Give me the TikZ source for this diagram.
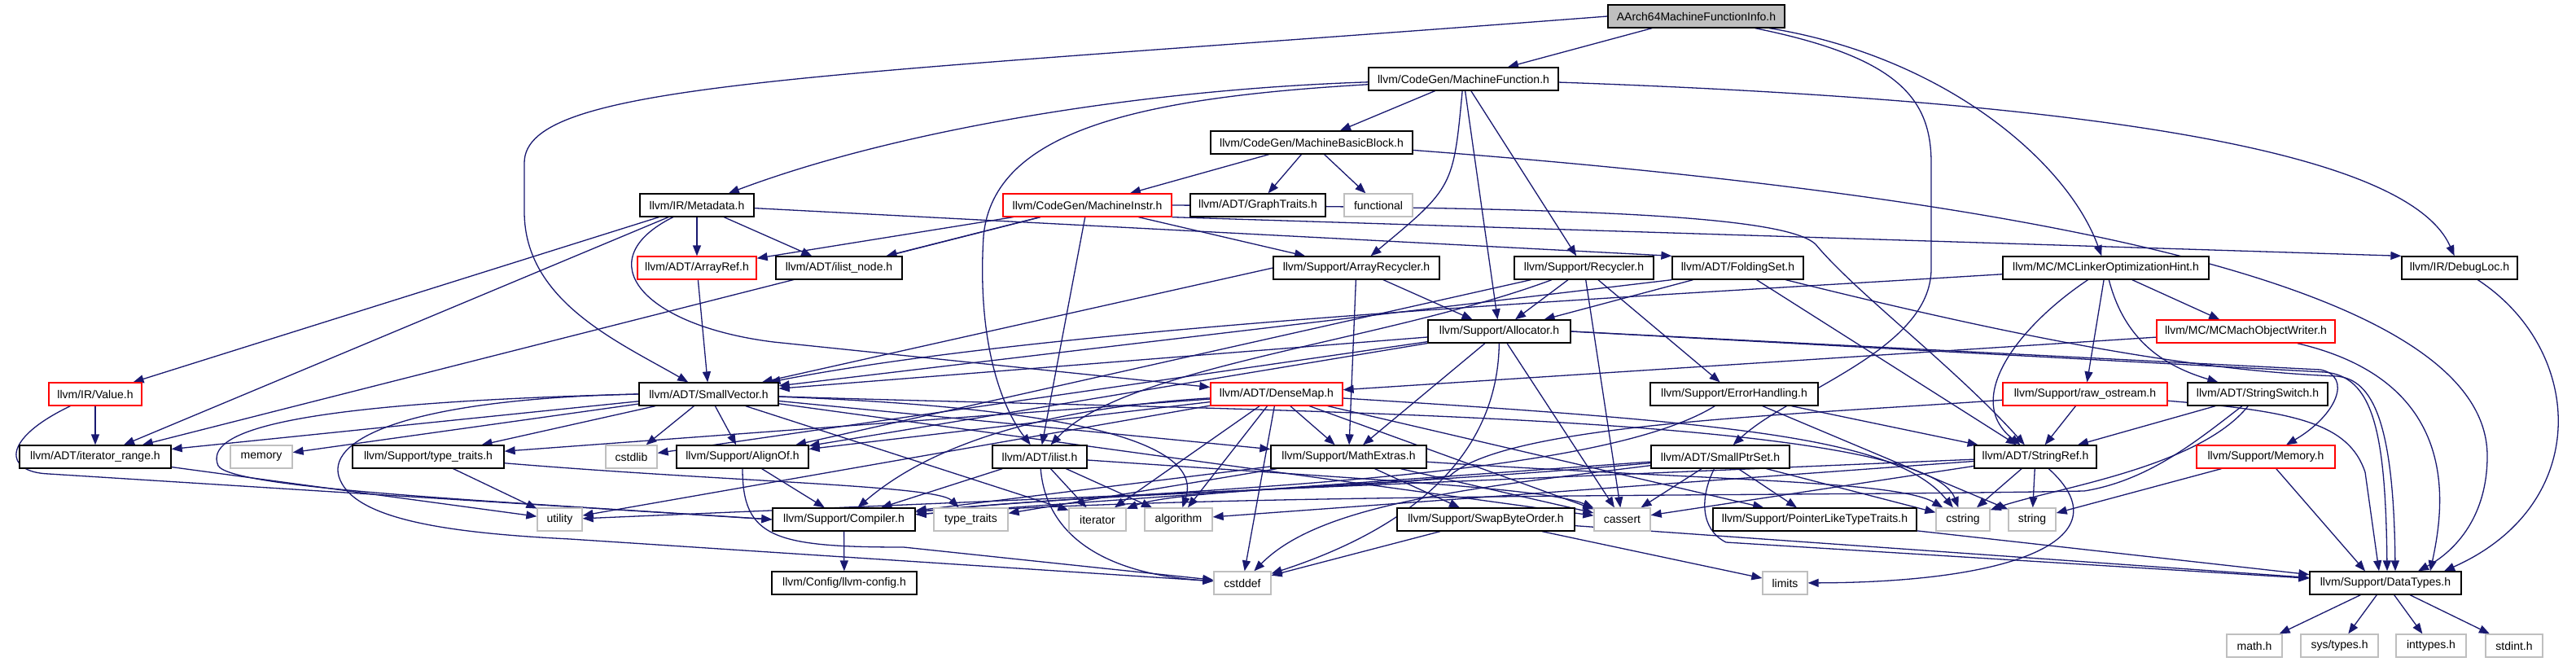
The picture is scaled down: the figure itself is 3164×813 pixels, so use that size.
\documentclass[tikz,border=0pt]{standalone}
\usepackage{fontspec}
\setmainfont{Liberation Sans}
\usetikzlibrary{arrows.meta}
\pgfdeclarelayer{edges}
\pgfsetlayers{edges,main}
\definecolor{edgeblue}{HTML}{191970}
\definecolor{sysgray}{HTML}{BFBFBF}
\newcommand{\hdrfont}{\fontsize{14}{16}\selectfont}

\begin{document}
\begin{tikzpicture}[x=1pt,y=1pt,>={Triangle[length=13pt,width=10pt]},
  hdr/.style={draw=black,line width=1.3pt,fill=white,minimum height=28pt,inner xsep=3pt,inner ysep=0pt,font=\hdrfont},
  syshdr/.style={hdr,draw=sysgray},
  cuthdr/.style={hdr,draw=red},
  mainhdr/.style={hdr,fill=sysgray},
  inc/.style={->,draw=edgeblue,line width=1.3pt}]
  \useasboundingbox (0,0) rectangle (3164,-813);

  \node[mainhdr,minimum width=217] (aarch) at (2083.5,-20) {AArch64MachineFunctionInfo.h};
  \node[hdr,minimum width=233] (mf) at (1797.5,-97) {llvm/CodeGen/MachineFunction.h};
  \node[hdr,minimum width=248] (mbb) at (1611,-175) {llvm/CodeGen/MachineBasicBlock.h};
  \node[hdr,minimum width=140] (metadata) at (856,-252) {llvm/IR/Metadata.h};
  \node[cuthdr,minimum width=207] (minstr) at (1335.5,-252) {llvm/CodeGen/MachineInstr.h};
  \node[hdr,minimum width=166] (graphtraits) at (1545,-252) {llvm/ADT/GraphTraits.h};
  \node[syshdr,minimum width=84] (functional) at (1693,-252) {functional};
  \node[cuthdr,minimum width=146] (arrayref) at (856,-329) {llvm/ADT/ArrayRef.h};
  \node[hdr,minimum width=155] (ilistnode) at (1030.5,-329) {llvm/ADT/ilist\_node.h};
  \node[hdr,minimum width=204] (arrayrecycler) at (1666,-329) {llvm/Support/ArrayRecycler.h};
  \node[hdr,minimum width=171] (recycler) at (1945.5,-329) {llvm/Support/Recycler.h};
  \node[hdr,minimum width=161] (foldingset) at (2134.5,-329) {llvm/ADT/FoldingSet.h};
  \node[hdr,minimum width=253] (mcloh) at (2586.5,-329) {llvm/MC/MCLinkerOptimizationHint.h};
  \node[hdr,minimum width=142] (debugloc) at (3021,-329) {llvm/IR/DebugLoc.h};
  \node[hdr,minimum width=175] (allocator) at (1841.5,-407) {llvm/Support/Allocator.h};
  \node[cuthdr,minimum width=219] (mcmachow) at (2758.5,-407) {llvm/MC/MCMachObjectWriter.h};
  \node[cuthdr,minimum width=114] (value) at (117,-484) {llvm/IR/Value.h};
  \node[hdr,minimum width=171] (smallvector) at (870.5,-484) {llvm/ADT/SmallVector.h};
  \node[cuthdr,minimum width=162] (densemap) at (1568,-484) {llvm/ADT/DenseMap.h};
  \node[hdr,minimum width=206] (errorhandling) at (2130,-484) {llvm/Support/ErrorHandling.h};
  \node[cuthdr,minimum width=202] (rawostream) at (2561,-484) {llvm/Support/raw\_ostream.h};
  \node[hdr,minimum width=172] (stringswitch) at (2773,-484) {llvm/ADT/StringSwitch.h};
  \node[hdr,minimum width=186] (iterrange) at (117,-561) {llvm/ADT/iterator\_range.h};
  \node[syshdr,minimum width=76] (memory) at (321,-561) {memory};
  \node[hdr,minimum width=186] (typetraitsh) at (526,-561) {llvm/Support/type\_traits.h};
  \node[syshdr,minimum width=63] (cstdlib) at (775.5,-561) {cstdlib};
  \node[hdr,minimum width=162] (alignof) at (912,-561) {llvm/Support/AlignOf.h};
  \node[hdr,minimum width=116] (ilist) at (1277,-561) {llvm/ADT/ilist.h};
  \node[hdr,minimum width=191] (mathextras) at (1656.5,-561) {llvm/Support/MathExtras.h};
  \node[hdr,minimum width=170] (smallptrset) at (2113,-561) {llvm/ADT/SmallPtrSet.h};
  \node[hdr,minimum width=150] (stringref) at (2500,-561) {llvm/ADT/StringRef.h};
  \node[cuthdr,minimum width=170] (memoryh) at (2783,-561) {llvm/Support/Memory.h};
  \node[syshdr,minimum width=55] (utility) at (687.5,-638) {utility};
  \node[hdr,minimum width=175] (compiler) at (1036.5,-638) {llvm/Support/Compiler.h};
  \node[syshdr,minimum width=91] (typetraits) at (1192.5,-638) {type\_traits};
  \node[syshdr,minimum width=70] (iterator) at (1348,-638) {iterator};
  \node[syshdr,minimum width=83] (algorithm) at (1447.5,-638) {algorithm};
  \node[hdr,minimum width=218] (swapbyteorder) at (1825,-638) {llvm/Support/SwapByteOrder.h};
  \node[syshdr,minimum width=69] (cassert) at (1992.5,-638) {cassert};
  \node[hdr,minimum width=250] (pointerlike) at (2229,-638) {llvm/Support/PointerLikeTypeTraits.h};
  \node[syshdr,minimum width=66] (cstring) at (2411,-638) {cstring};
  \node[syshdr,minimum width=58] (string) at (2496,-638) {string};
  \node[hdr,minimum width=178] (llvmconfig) at (1037,-716) {llvm/Config/llvm-config.h};
  \node[syshdr,minimum width=70] (cstddef) at (1526,-716) {cstddef};
  \node[syshdr,minimum width=55] (limits) at (2192.5,-716) {limits};
  \node[hdr,minimum width=186] (datatypes) at (2930,-716) {llvm/Support/DataTypes.h};
  \node[syshdr,minimum width=68] (math) at (2769,-793) {math.h};
  \node[syshdr,minimum width=95] (systypes) at (2873.5,-793) {sys/types.h};
  \node[syshdr,minimum width=86] (inttypes) at (2986,-793) {inttypes.h};
  \node[syshdr,minimum width=70] (stdint) at (3088,-793) {stdint.h};

  \begin{pgfonlayer}{edges}
  \draw[inc] (aarch) -- (mf);
  \draw[inc] (aarch.west) .. controls (1000,-95) and (644,-100) .. (644,-200) -- (644,-260) .. controls (644,-370) and (760,-420) .. (smallvector);
  \draw[inc] (aarch) .. controls (2330,-70) and (2372,-120) .. (2372,-200) -- (2372,-330) .. controls (2372,-430) and (2200,-480) .. (smallptrset);
  \draw[inc] (aarch) .. controls (2390,-70) and (2540,-200) .. (mcloh);

  \draw[inc] (mf) .. controls (1400,-110) and (1100,-160) .. (metadata);
  \draw[inc] (mf) .. controls (1400,-120) and (1220,-160) .. (1208,-290) .. controls (1200,-420) and (1230,-500) .. (ilist);
  \draw[inc] (mf) -- (mbb);
  \draw[inc] (mf) .. controls (1785,-230) .. (arrayrecycler);
  \draw[inc] (mf) -- (allocator);
  \draw[inc] (mf) -- (recycler);
  \draw[inc] (mf) .. controls (2600,-125) and (2960,-190) .. (debugloc);

  \draw[inc] (mbb) -- (minstr);
  \draw[inc] (mbb) -- (graphtraits);
  \draw[inc] (mbb) -- (functional);
  \draw[inc] (mbb) .. controls (2600,-250) and (3055,-370) .. (3055,-560) .. controls (3055,-640) and (3010,-680) .. ([xshift=40]datatypes.north);

  \draw[inc] (metadata) -- (arrayref);
  \draw[inc] (metadata) -- (ilistnode);
  \draw[inc] (metadata) .. controls (720,-320) and (790,-400) .. (950,-420) -- (densemap);
  \draw[inc] (metadata) -- (value);
  \draw[inc] (metadata) -- (iterrange);
  \draw[inc] (metadata) -- (foldingset.north west);

  \draw[inc] (minstr) -- (arrayref);
  \draw[inc] (minstr) -- (ilistnode);
  \draw[inc] (minstr) -- (iterrange);
  \draw[inc] (minstr) -- (ilist);
  \draw[inc] (minstr) -- (arrayrecycler);
  \draw[inc] (minstr.south east) -- (debugloc.north west);
  \draw[inc] (minstr.east) .. controls (1900,-255) and (2190,-262) .. (2230,-300) .. controls (2280,-360) and (2400,-450) .. (stringref);

  \draw[inc] (arrayref) -- (smallvector);
  \draw[inc] (arrayrecycler.west) -- (smallvector);
  \draw[inc] (arrayrecycler) -- (allocator);
  \draw[inc] (arrayrecycler) -- (mathextras);

  \draw[inc] (recycler) .. controls (1700,-420) and (1380,-450) .. (ilist);
  \draw[inc] (recycler) -- (alignof);
  \draw[inc] (recycler) -- (allocator);
  \draw[inc] (recycler) -- (errorhandling);
  \draw[inc] (recycler) -- (cassert);

  \draw[inc] (foldingset.south west) -- (smallvector);
  \draw[inc] (foldingset) -- (allocator);
  \draw[inc] (foldingset) -- (stringref);
  \draw[inc] (foldingset) .. controls (2500,-420) and (2700,-455) .. (2870,-462) .. controls (2915,-466) and (2940,-520) .. ([xshift=12]datatypes.north);

  \draw[inc] (mcloh) .. controls (2000,-365) and (1300,-400) .. (smallvector);
  \draw[inc] (mcloh) .. controls (2480,-400) and (2410,-490) .. (stringref);
  \draw[inc] (mcloh) .. controls (2610,-420) and (2660,-450) .. (stringswitch);
  \draw[inc] (mcloh) -- (mcmachow);
  \draw[inc] (mcloh) -- (rawostream);

  \draw[inc] (debugloc) .. controls (3175,-430) and (3185,-620) .. ([xshift=72]datatypes.north);

  \draw[inc] (allocator) -- (smallvector);
  \draw[inc] (allocator) -- (alignof);
  \draw[inc] (allocator.east) -- (2855,-457) .. controls (2915,-462) and (2930,-530) .. ([xshift=2]datatypes.north);
  \draw[inc] (allocator.east) -- (2850,-454) .. controls (2890,-462) and (2870,-510) .. (memoryh);
  \draw[inc] (allocator) -- (mathextras);
  \draw[inc] (allocator) -- (cassert);
  \draw[inc] (allocator) .. controls (1840,-540) and (1760,-640) .. (cstddef);
  \draw[inc] (allocator) -- (cstdlib);

  \draw[inc] (mcmachow) -- (densemap);
  \draw[inc] (mcmachow) .. controls (3030,-470) and (3000,-630) .. ([xshift=55]datatypes.north);

  \draw[inc] (value) -- (iterrange);
  \draw[inc] (value) .. controls (0,-540) and (5,-580) .. (60,-582) -- (compiler.west);

  \draw[inc] (smallvector) -- (iterrange);
  \draw[inc] (smallvector) -- (memory);
  \draw[inc] (smallvector) -- (typetraitsh);
  \draw[inc] (smallvector) -- (cstdlib);
  \draw[inc] (smallvector) -- (alignof);
  \draw[inc] (smallvector.west) .. controls (350,-495) and (250,-530) .. (268,-572) .. controls (285,-600) and (600,-615) .. (compiler.west);
  \draw[inc] (smallvector) -- (mathextras);
  \draw[inc] (smallvector) .. controls (1300,-500) and (1480,-540) .. (algorithm);
  \draw[inc] (smallvector) -- (cassert);
  \draw[inc] (smallvector.west) .. controls (500,-490) and (395,-540) .. (418,-590) .. controls (440,-640) and (560,-655) .. (700,-662) -- (cstddef);
  \draw[inc] (smallvector) .. controls (1500,-505) and (2360,-505) .. (cstring);
  \draw[inc] (smallvector) -- (iterator);

  \draw[inc] (densemap) -- (alignof);
  \draw[inc] (densemap) .. controls (1300,-500) and (1150,-540) .. (compiler);
  \draw[inc] (densemap) -- (mathextras);
  \draw[inc] (densemap) -- (pointerlike);
  \draw[inc] (densemap) -- (typetraitsh);
  \draw[inc] (densemap) -- (algorithm);
  \draw[inc] (densemap) -- (cassert);
  \draw[inc] (densemap) -- (cstddef);
  \draw[inc] (densemap) .. controls (2150,-520) and (2330,-540) .. (cstring);
  \draw[inc] (densemap) -- (iterator);
  \draw[inc] (densemap) -- (utility);

  \draw[inc] (errorhandling) -- (stringref);
  \draw[inc] (errorhandling) .. controls (1950,-595) and (1400,-600) .. (compiler);
  \draw[inc] (errorhandling) -- (string);

  \draw[inc] (rawostream) -- (stringref);
  \draw[inc] (rawostream) .. controls (2200,-510) and (1850,-520) .. (1780,-585) .. controls (1700,-600) and (1350,-605) .. (compiler);
  \draw[inc] (rawostream) .. controls (2820,-505) and (2885,-520) .. (2905,-580) -- ([xshift=-8]datatypes.north);

  \draw[inc] (stringswitch) -- (stringref);
  \draw[inc] (stringswitch) .. controls (2700,-540) and (2640,-590) .. (2560,-603) .. controls (2200,-610) and (1500,-605) .. (compiler);
  \draw[inc] (stringswitch) .. controls (2700,-575) and (2520,-600) .. (cstring);

  \draw[inc] (iterrange) -- (utility);
  \draw[inc] (typetraitsh) -- (utility);
  \draw[inc] (typetraitsh) .. controls (900,-592) and (1150,-596) .. (typetraits);

  \draw[inc] (alignof) -- (compiler);
  \draw[inc] (alignof) .. controls (912,-660) and (950,-672) .. (1110,-672) -- (cstddef);

  \draw[inc] (ilist) -- (compiler);
  \draw[inc] (ilist) -- (algorithm);
  \draw[inc] (ilist) .. controls (1700,-590) and (1900,-600) .. (cassert);
  \draw[inc] (ilist) .. controls (1285,-660) and (1360,-705) .. (cstddef);
  \draw[inc] (ilist) -- (iterator);

  \draw[inc] (mathextras) -- (compiler);
  \draw[inc] (mathextras) -- (swapbyteorder);
  \draw[inc] (mathextras) -- (typetraits);
  \draw[inc] (mathextras) -- (cassert);
  \draw[inc] (mathextras) .. controls (2100,-590) and (2330,-590) .. (cstring);

  \draw[inc] (smallptrset) -- (compiler);
  \draw[inc] (smallptrset) .. controls (2088,-610) and (2088,-650) .. (2120,-666) -- (datatypes);
  \draw[inc] (smallptrset) -- (pointerlike);
  \draw[inc] (smallptrset) -- (cassert);
  \draw[inc] (smallptrset) .. controls (1800,-600) and (1620,-620) .. (cstddef);
  \draw[inc] (smallptrset) -- (cstring);
  \draw[inc] (smallptrset) .. controls (1700,-598) and (1450,-600) .. (iterator);

  \draw[inc] (stringref) -- (algorithm);
  \draw[inc] (stringref) -- (cassert);
  \draw[inc] (stringref) -- (cstring);
  \draw[inc] (stringref) .. controls (2610,-660) and (2480,-715) .. (limits);
  \draw[inc] (stringref) -- (string);
  \draw[inc] (stringref) -- (utility);

  \draw[inc] (memoryh) -- ([xshift=-25]datatypes.north);
  \draw[inc] (memoryh) -- (string);

  \draw[inc] (compiler) -- (llvmconfig);
  \draw[inc] (swapbyteorder) -- (cstddef);
  \draw[inc] (swapbyteorder) -- (limits);
  \draw[inc] (swapbyteorder) -- (datatypes);
  \draw[inc] (pointerlike) -- (datatypes);
  \draw[inc] (datatypes) -- (math);
  \draw[inc] (datatypes) -- (systypes);
  \draw[inc] (datatypes) -- (inttypes);
  \draw[inc] (datatypes) -- (stdint);
  \end{pgfonlayer}
\end{tikzpicture}
\end{document}
